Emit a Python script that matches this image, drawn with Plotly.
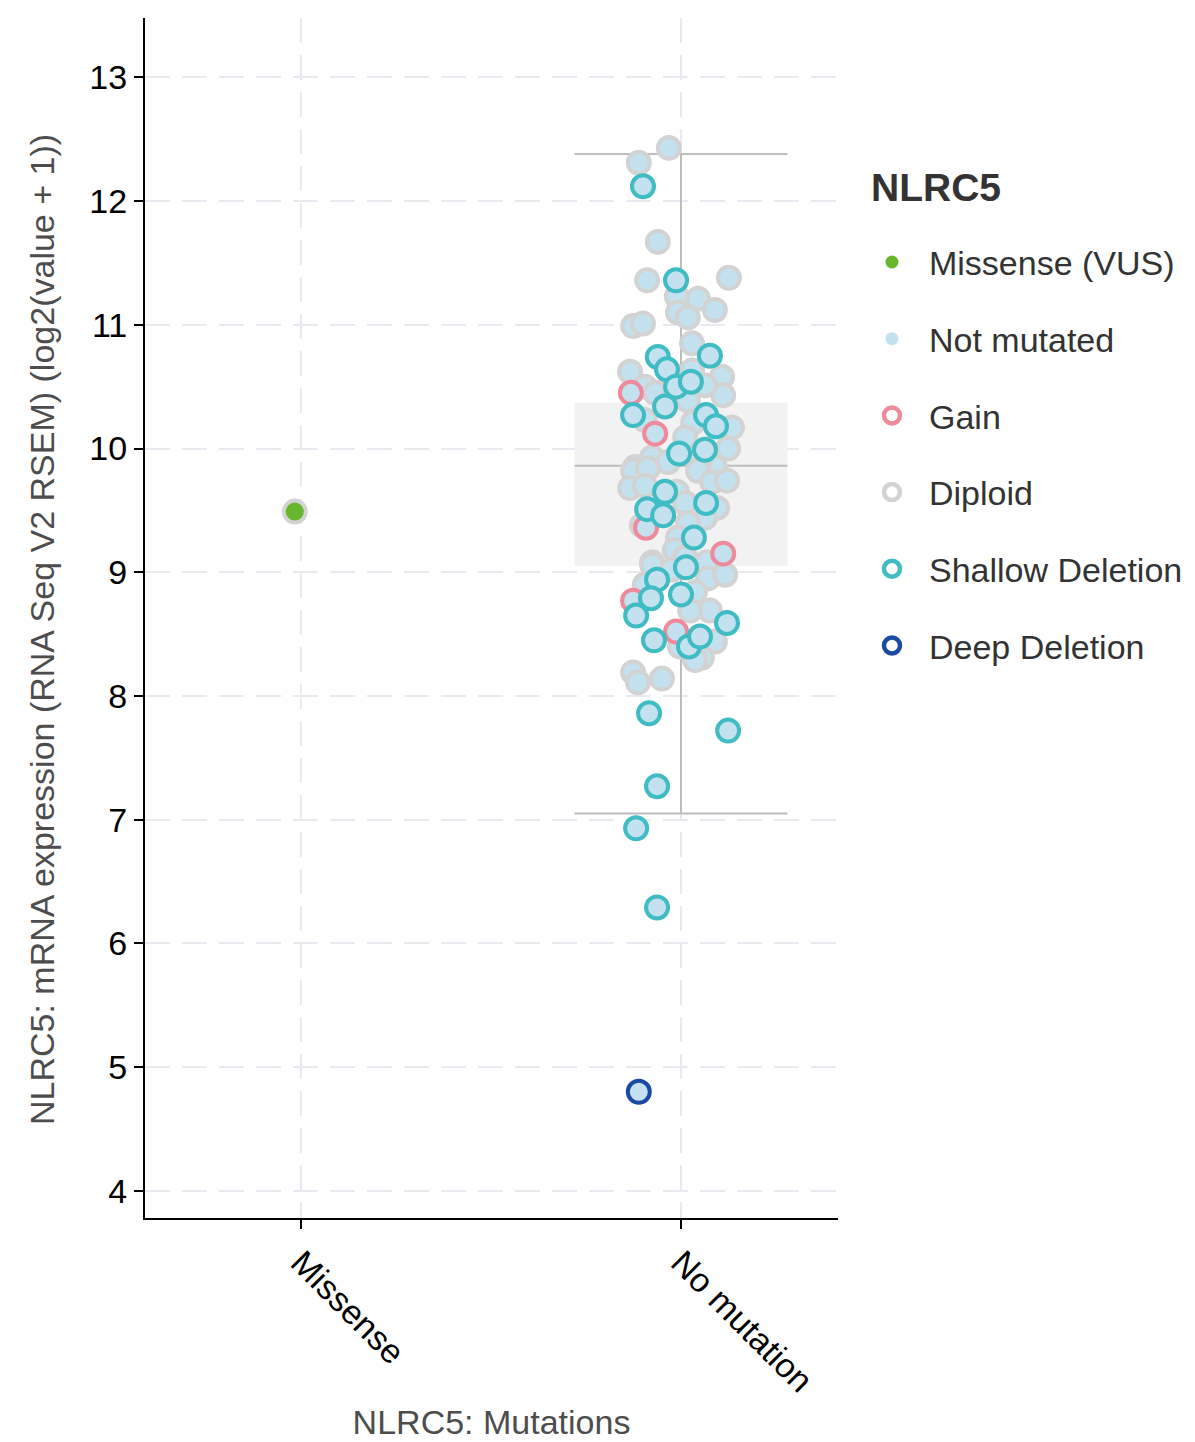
import plotly.graph_objects as go

# ---------------- data ----------------
categories = ["Missense", "No mutation"]
gene = "NLRC5"

# Missense sample (copy number: Diploid)
missense_jitter = [-0.016]
missense_values = [9.49]

# No-mutation samples by copy-number status (jitter in category units, value = log2 expression)
diploid_jitter = [-0.032, -0.111, -0.061, -0.089, 0.126, -0.011, 0.045, 0.089, -0.008, 0.018,
                  -0.126, -0.100, 0.029, -0.134, -0.029, 0.108, 0.029, -0.095, 0.111, -0.068,
                  -0.016, 0.063, 0.018, 0.134, 0.032, -0.095, 0.011, 0.124, -0.076, -0.121,
                  0.089, 0.050, -0.034, -0.126, -0.087, 0.045, 0.082, 0.121, -0.134, -0.095,
                  -0.011, 0.011, 0.095, 0.063, -0.103, 0.018, -0.008, -0.016, 0.011, -0.076,
                  0.068, -0.076, -0.024, 0.071, 0.116, -0.095, 0.037, 0.076, 0.024, 0.089,
                  0.055, 0.037, -0.003, -0.126, -0.113, -0.050]
diploid_values = [12.43, 12.31, 11.67, 11.36, 11.38, 11.23, 11.21, 11.12, 11.10, 11.06,
                  10.99, 11.01, 10.85, 10.62, 10.61, 10.58, 10.63, 10.50, 10.43, 10.45,
                  10.48, 10.51, 10.39, 10.17, 10.21, 10.23, 10.09, 10.00, 9.93, 9.85,
                  9.85, 9.91, 9.89, 9.82, 9.84, 9.82, 9.73, 9.74, 9.68, 9.70,
                  9.65, 9.56, 9.52, 9.44, 9.38, 9.40, 9.28, 9.18, 9.12, 9.08,
                  9.08, 9.06, 9.02, 8.95, 8.98, 8.90, 8.84, 8.69, 8.69, 8.44,
                  8.31, 8.29, 8.40, 8.19, 8.11, 8.14]

gain_jitter = [-0.132, -0.068, -0.092, 0.111, -0.126, -0.013]
gain_values = [10.45, 10.12, 9.36, 9.15, 8.77, 8.52]

shallow_jitter = [-0.100, -0.013, -0.061, 0.076, -0.037, -0.013, 0.026, -0.042, -0.126, 0.066,
                  0.092, -0.005, 0.063, -0.042, -0.089, 0.066, -0.047, 0.034, 0.013, -0.063,
                  -0.079, 0.000, -0.118, 0.121, -0.071, 0.021, 0.050, -0.084, 0.124, -0.063,
                  -0.118, -0.063]
shallow_values = [12.12, 11.36, 10.74, 10.75, 10.64, 10.50, 10.54, 10.34, 10.27, 10.27,
                  10.18, 9.96, 9.99, 9.65, 9.51, 9.56, 9.46, 9.28, 9.04, 8.94,
                  8.79, 8.82, 8.65, 8.59, 8.45, 8.40, 8.48, 7.86, 7.72, 7.27,
                  6.93, 6.29]

deep_jitter = [-0.111]
deep_values = [4.80]

# Box summary for "No mutation": lower whisker, Q1, median, Q3, upper whisker
box_stats = [7.05, 9.05, 9.86, 10.37, 12.38]

y_ticks = [4, 5, 6, 7, 8, 9, 10, 11, 12, 13]

# ---------------- styles ----------------
FILL_NOT_MUT = "#c3e1ee"
GREEN = "#66b72e"
COL_GAIN = "#ee8a9b"
COL_DIPLOID = "#d3d3d3"
COL_SHALLOW = "#3fbcc4"
COL_DEEP = "#1a4aa2"
BOX_FILL = "#f2f2f2"
BOX_LINE = "#bdbdbd"
FONT = "Liberation Sans, Arial, sans-serif"
MSIZE = 22
MLINE = 4
BOX_HALF = 0.28

fig = go.Figure()

# box (drawn from summary stats)
cx = 1
lo, q1, med, q3, hi = box_stats
fig.add_trace(go.Scatter(x=[cx - BOX_HALF, cx + BOX_HALF, cx + BOX_HALF, cx - BOX_HALF, cx - BOX_HALF],
                         y=[q1, q1, q3, q3, q1], fill="toself", fillcolor=BOX_FILL,
                         line=dict(width=0), mode="lines", showlegend=False, hoverinfo="skip"))
for xs, ys in [([cx, cx], [q3, hi]), ([cx, cx], [lo, q1]),
               ([cx - BOX_HALF, cx + BOX_HALF], [hi, hi]),
               ([cx - BOX_HALF, cx + BOX_HALF], [lo, lo]),
               ([cx - BOX_HALF, cx + BOX_HALF], [med, med])]:
    fig.add_trace(go.Scatter(x=xs, y=ys, mode="lines", line=dict(color=BOX_LINE, width=2),
                             showlegend=False, hoverinfo="skip"))


def pts(jit, vals, base, fill, stroke):
    fig.add_trace(go.Scatter(
        x=[base + j for j in jit], y=vals, mode="markers", showlegend=False,
        marker=dict(size=MSIZE, color=fill, line=dict(color=stroke, width=MLINE))))


pts(missense_jitter, missense_values, 0, GREEN, COL_DIPLOID)
pts(diploid_jitter, diploid_values, 1, FILL_NOT_MUT, COL_DIPLOID)
pts(gain_jitter, gain_values, 1, FILL_NOT_MUT, COL_GAIN)
pts(shallow_jitter, shallow_values, 1, FILL_NOT_MUT, COL_SHALLOW)
pts(deep_jitter, deep_values, 1, FILL_NOT_MUT, COL_DEEP)

# legend entries
legend_items = [
    ("Missense (VUS)", dict(size=13, color=GREEN, line=dict(width=0))),
    ("Not mutated", dict(size=13, color=FILL_NOT_MUT, line=dict(width=0))),
    ("Gain", dict(size=16, color="white", line=dict(color=COL_GAIN, width=4.5))),
    ("Diploid", dict(size=16, color="white", line=dict(color=COL_DIPLOID, width=4.5))),
    ("Shallow Deletion", dict(size=16, color="white", line=dict(color=COL_SHALLOW, width=4.5))),
    ("Deep Deletion", dict(size=16, color="white", line=dict(color=COL_DEEP, width=4.5))),
]
for i, (name, mk) in enumerate(legend_items):
    fig.add_trace(go.Scatter(x=[None], y=[None], mode="markers", name=name, marker=mk,
                             legendgroup=f"g{i}", showlegend=True))

fig.update_layout(
    width=1195, height=1442,
    paper_bgcolor="white", plot_bgcolor="white",
    margin=dict(l=137, r=365, t=10, b=232, autoexpand=False),
    font=dict(family=FONT, size=34, color="#000"),
    showlegend=True,
    legend=dict(
        x=1.0245, xanchor="left", y=0.8205, yanchor="top",
        font=dict(size=34, color="#333333"),
        itemsizing="trace", itemwidth=64, tracegroupgap=29.5, traceorder="grouped",
        bgcolor="rgba(0,0,0,0)",
    ),
    annotations=[
        dict(text="<b>" + gene + "</b>", xref="paper", yref="paper",
             x=1.045, y=0.859, xanchor="left", yanchor="middle", showarrow=False,
             font=dict(size=39, color="#333333", family=FONT)),
        dict(text=gene + ": mRNA expression (RNA Seq V2 RSEM) (log2(value + 1))",
             xref="paper", yref="paper", x=-0.1486, y=0.49, xanchor="center", yanchor="middle",
             textangle=-90, showarrow=False, font=dict(size=34, color="#4d4d4d", family=FONT)),
    ],
)

fig.update_xaxes(
    range=[-0.41, 1.413], tickvals=[0, 1], ticktext=categories, tickangle=45,
    showline=True, linecolor="black", linewidth=2, mirror=False,
    ticks="outside", ticklen=9, tickwidth=2, tickcolor="black",
    showgrid=True, gridcolor="#e9e9ef", gridwidth=2, griddash="25px,12px",
    zeroline=False, tickfont=dict(size=34, color="black"),
    title=dict(text=gene + ": Mutations", font=dict(size=34, color="#4d4d4d"), standoff=12),
    automargin=False,
)
fig.update_yaxes(
    range=[3.78, 13.48], tickvals=y_ticks,
    showline=True, linecolor="black", linewidth=2,
    ticks="outside", ticklen=9, tickwidth=2, tickcolor="black",
    showgrid=True, gridcolor="#e9e9ef", gridwidth=2, griddash="25px,12px",
    zeroline=False, tickfont=dict(size=34, color="black"),
    automargin=False,
)

fig.write_html("out.html")
